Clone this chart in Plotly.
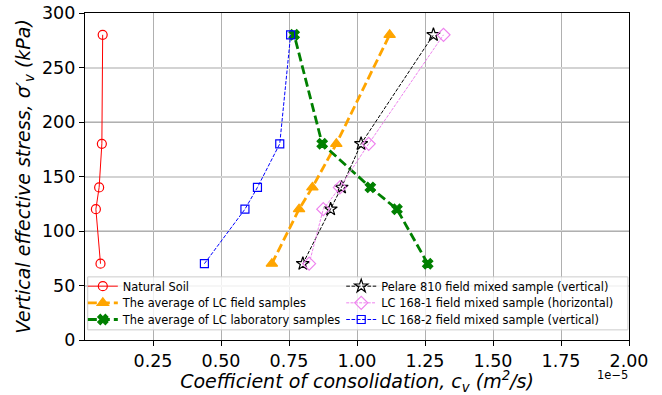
import plotly.graph_objects as go

# Data (x in units of 1e-5 m^2/s, y in kPa)
stress = [70, 120, 140, 180, 280]
natural_soil = [0.057, 0.040, 0.052, 0.062, 0.065]
lc_field_avg = [0.687, 0.787, 0.836, 0.924, 1.120]
lc_lab_avg = [1.260, 1.147, 1.049, 0.872, 0.769]
pelare_810 = [0.801, 0.903, 0.943, 1.015, 1.281]
lc_168_1 = [0.824, 0.876, 0.937, 1.043, 1.318]
lc_168_2 = [0.439, 0.588, 0.634, 0.716, 0.756]

x_ticks = [0.25, 0.5, 0.75, 1.0, 1.25, 1.5, 1.75, 2.0]
x_tick_labels = ["0.25", "0.50", "0.75", "1.00", "1.25", "1.50", "1.75", "2.00"]
y_ticks = [0, 50, 100, 150, 200, 250, 300]

series = [
    dict(name="Natural Soil", x=natural_soil, color="#ff0000", width=1, dash="solid",
         symbol="circle-open", size=9),
    dict(name="The average of LC field samples", x=lc_field_avg, color="#ffa500", width=2.8,
         dash="9px,4px", symbol="triangle-up", size=10),
    dict(name="The average of LC laboratory samples", x=lc_lab_avg, color="#008000", width=2.8,
         dash="9px,4px", symbol="x", size=9),
    dict(name="Pelare 810 field mixed sample (vertical)", x=pelare_810, color="#000000", width=1,
         dash="3.7px,1.6px", symbol="star-open", size=10),
    dict(name="LC 168-1 field mixed sample (horizontal)", x=lc_168_1, color="#ee82ee", width=1,
         dash="3px,1.3px", symbol="diamond-open", size=10),
    dict(name="LC 168-2 field mixed sample (vertical)", x=lc_168_2, color="#0000ff", width=1,
         dash="3.7px,1.6px", symbol="square-open", size=8),
]

# legend slots: two columns, three rows (column-major like the reference)
legend_col_x = [-0.004, 0.471]
legend_row_y = [0.209, 0.158, 0.107]

fig = go.Figure()
legend_layout = {}
font_family = "DejaVu Sans"
for i, s in enumerate(series):
    key = "legend" if i == 0 else f"legend{i + 1}"
    fig.add_trace(go.Scatter(
        x=s["x"], y=stress, mode="lines+markers", name=s["name"],
        line=dict(color=s["color"], width=s["width"], dash=s["dash"]),
        marker=dict(symbol=s["symbol"], size=s["size"], color=s["color"],
                    line=dict(color=s["color"], width=1.2)),
        legend=key,
    ))
    legend_layout[key] = dict(
        x=legend_col_x[i // 3], y=legend_row_y[i % 3],
        orientation="v", yanchor="top", xanchor="left", valign="middle",
        font=dict(size=11.4, family=font_family), bgcolor="rgba(0,0,0,0)",
        borderwidth=0, itemwidth=30, title=dict(text=""),
    )

# invisible trace on secondary y axis for the darker grid lines
fig.add_trace(go.Scatter(x=[None], y=[None], yaxis="y2", showlegend=False, hoverinfo="skip"))

fig.update_layout(
    width=662, height=395,
    margin=dict(l=85, r=33, t=13, b=55),
    plot_bgcolor="white", paper_bgcolor="white",
    font=dict(family=font_family, color="black"),
    xaxis=dict(
        range=[0, 2.0], tickvals=x_ticks, ticktext=x_tick_labels, automargin=False,
        tickfont=dict(size=17.5), ticks="outside", ticklen=5, tickcolor="black",
        showline=True, linecolor="black", linewidth=1.2, mirror=True,
        showgrid=True, gridcolor="#b0b0b0", gridwidth=1, zeroline=False,
        title=dict(text="<i>Coefficient of consolidation, c<sub>v</sub> (m<sup>2</sup>/s)</i>",
                   font=dict(size=19), standoff=2),
    ),
    yaxis=dict(
        range=[0, 300], tickvals=y_ticks, automargin=False,
        tickfont=dict(size=17.5), ticks="outside", ticklen=5, tickcolor="black",
        showline=True, linecolor="black", linewidth=1.2, mirror=True,
        showgrid=True, gridcolor="#d3d3d3", gridwidth=2.2, zeroline=False,
        title=dict(text="<i>Vertical effective stress, σ′<sub>v</sub> (kPa)</i>",
                   font=dict(size=19), standoff=6),
    ),
    yaxis2=dict(
        range=[0, 300], overlaying="y", side="left", dtick=100, automargin=False,
        showticklabels=False, ticks="", showline=False,
        showgrid=True, gridcolor="#b0b0b0", gridwidth=1, zeroline=False,
    ),
    shapes=[dict(
        type="rect", xref="paper", yref="paper", x0=0.005, x1=0.998, y0=0.031, y1=0.193,
        fillcolor="rgba(255,255,255,0.8)", line=dict(color="#cccccc", width=1), layer="above",
    )],
    annotations=[dict(
        text="1e−5", xref="paper", yref="paper", x=0.97, y=0, yshift=-35,
        xanchor="center", yanchor="middle", showarrow=False, font=dict(size=11.5),
    )],
    **legend_layout,
)

fig.write_html(
    "out.html",
    config={"displayModeBar": False},
    post_script="document.body.style.margin='0';document.body.style.padding='0';",
)
